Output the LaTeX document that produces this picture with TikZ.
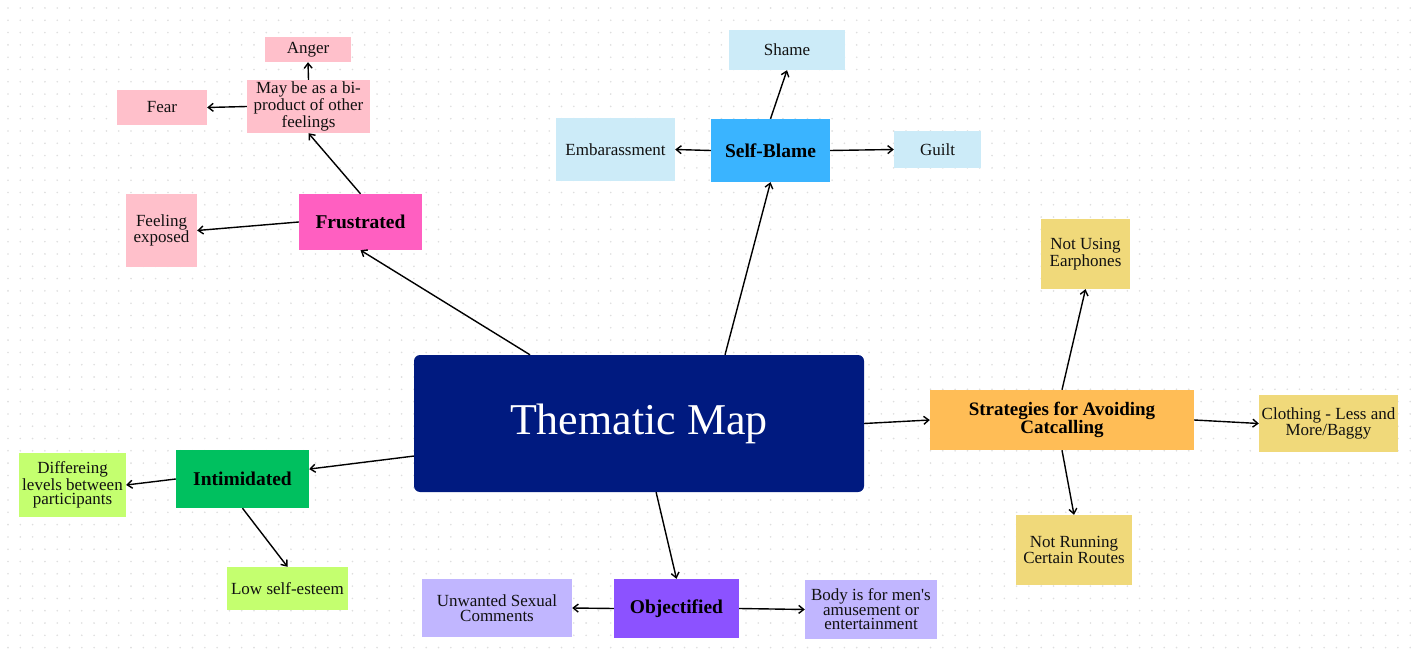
\documentclass[tikz,border=0pt]{standalone}
\usepackage{fontspec}
\setmainfont{Liberation Serif}
\newfontfamily\rawserif{Liberation Serif}
\usetikzlibrary{arrows.meta,calc}
\definecolor{pinkL}{HTML}{FFC0CB}
\definecolor{pinkD}{HTML}{FF5FC1}
\definecolor{blueL}{HTML}{CCEBF8}
\definecolor{blueD}{HTML}{3AB4FF}
\definecolor{yelL}{HTML}{F0D97A}
\definecolor{orgD}{HTML}{FFBD56}
\definecolor{navy}{HTML}{001A80}
\definecolor{greenD}{HTML}{00C05F}
\definecolor{greenL}{HTML}{C4FF6F}
\definecolor{purD}{HTML}{8C52FF}
\definecolor{purL}{HTML}{C1B6FF}
\definecolor{dotc}{HTML}{DEDEDE}
\definecolor{txt}{HTML}{111111}
\begin{document}
\begin{tikzpicture}[x=1pt,y=-1pt,
  leaf/.style={inner sep=0pt, align=center, text=txt, font=\rawserif\fontsize{17}{14.5}\selectfont},
  hub/.style={inner sep=0pt, align=center, text=black, font=\fontsize{19.5}{16}\selectfont\bfseries},
  arr/.style={-{Straight Barb[length=5pt,width=8pt]}, line width=1.4pt, black}]
\useasboundingbox[fill=white] (0,0) rectangle (1411,652);
\foreach \i in {0,...,114} {
  \foreach \j in {0,...,52} {
    \fill[dotc] (8+12.3*\i, 8+12.3*\j) circle (0.9);
  }
}
% central
\node[fill=navy, rounded corners=6pt, minimum width=450, minimum height=137, inner sep=0pt, text=white, font=\fontsize{44}{44}\selectfont] (tm) at (639,423.5) {Thematic Map};
% Frustrated branch
\node[hub, fill=pinkD, minimum width=123, minimum height=56] (frus) at (360.5,222) {Frustrated};
\node[leaf, fill=pinkL, minimum width=123, minimum height=53] (maybe) at (308.5,106.5) {May be as a bi-\\product of other\\feelings};
\node[leaf, fill=pinkL, minimum width=86, minimum height=25] (anger) at (308,49.5) {Anger};
\node[leaf, fill=pinkL, minimum width=90, minimum height=35] (fear) at (162,107.5) {Fear};
\node[leaf, fill=pinkL, minimum width=71, minimum height=73] (feel) at (161.5,230.5) {Feeling\\exposed};
% Self-Blame branch
\node[hub, fill=blueD, minimum width=119, minimum height=63] (sb) at (770.5,150.5) {Self-Blame};
\node[leaf, fill=blueL, minimum width=116, minimum height=40] (shame) at (787,50) {Shame};
\node[leaf, fill=blueL, minimum width=119, minimum height=63] (emb) at (615.5,149.5) {Embarassment};
\node[leaf, fill=blueL, minimum width=87, minimum height=37] (guilt) at (937.5,149.5) {Guilt};
% Strategies branch
\node[hub, fill=orgD, minimum width=264, minimum height=60, font=\fontsize{19}{15.5}\selectfont\bfseries] (strat) at (1062,420) {Strategies for Avoiding\\Catcalling};
\node[leaf, fill=yelL, minimum width=89, minimum height=70] (ear) at (1085.5,254) {Not Using\\Earphones};
\node[leaf, fill=yelL, minimum width=139, minimum height=57] (cloth) at (1328.5,423.5) {Clothing - Less and\\More/Baggy};
\node[leaf, fill=yelL, minimum width=116, minimum height=70] (run) at (1074,550) {Not Running\\Certain Routes};
% Intimidated branch
\node[hub, fill=greenD, minimum width=133, minimum height=58] (intim) at (242.5,479) {Intimidated};
\node[leaf, fill=greenL, minimum width=107, minimum height=64] (diff) at (72.5,485) {Differeing\\levels between\\participants};
\node[leaf, fill=greenL, minimum width=121, minimum height=43] (low) at (287.5,588.5) {Low self-esteem};
% Objectified branch
\node[hub, fill=purD, minimum width=125, minimum height=59] (obj) at (676.5,608.5) {Objectified};
\node[leaf, fill=purL, minimum width=150, minimum height=58] (unw) at (497,608) {Unwanted Sexual\\Comments};
\node[leaf, fill=purL, minimum width=132, minimum height=59] (body) at (871,609.5) {Body is for men's\\amusement or\\entertainment};
% connectors
\draw[arr] ($(tm.north west)!0.258!(tm.north east)$) -- (frus.south);
\draw[arr] ($(tm.north west)!0.691!(tm.north east)$) -- (sb.south);
\draw[arr] (tm.east) -- (strat.west);
\draw[arr] ($(tm.north west)!0.737!(tm.south west)$) -- ($(intim.north east)!0.33!(intim.south east)$);
\draw[arr] ($(tm.south west)!0.538!(tm.south east)$) -- (obj.north);
\draw[arr] (frus.north) -- (maybe.south);
\draw[arr] (frus.west) -- (feel.east);
\draw[arr] (maybe.north) -- (anger.south);
\draw[arr] (maybe.west) -- (fear.east);
\draw[arr] (sb.north) -- (shame.south);
\draw[arr] (sb.west) -- (emb.east);
\draw[arr] (sb.east) -- (guilt.west);
\draw[arr] (strat.north) -- (ear.south);
\draw[arr] (strat.east) -- (cloth.west);
\draw[arr] (strat.south) -- (run.north);
\draw[arr] (intim.west) -- (diff.east);
\draw[arr] (intim.south) -- (low.north);
\draw[arr] (obj.west) -- (unw.east);
\draw[arr] (obj.east) -- (body.west);
\end{tikzpicture}
\end{document}
